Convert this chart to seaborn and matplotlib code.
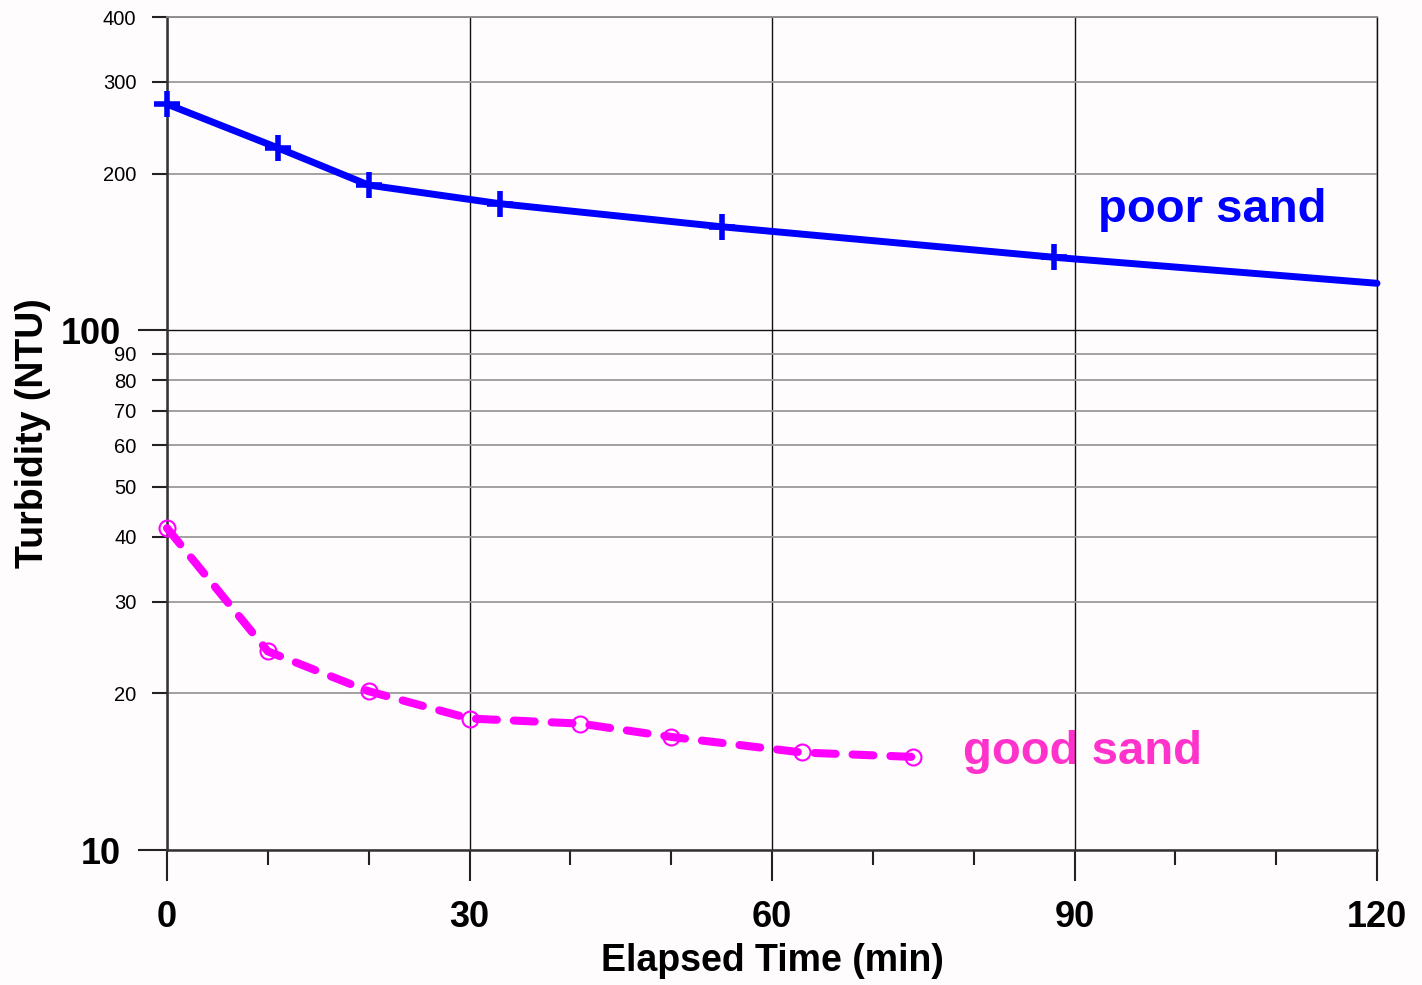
import matplotlib
matplotlib.use("Agg")
import matplotlib.pyplot as plt
import matplotlib.ticker as mticker
import seaborn as sns
import pandas as pd

# ---- data ----
poor_time = [0, 11, 20, 33, 55, 88, 120]
poor_ntu = [272, 224, 190, 175, 158, 138, 123]
poor_marked = [True, True, True, True, True, True, False]

good_time = [0, 10, 20, 30, 41, 50, 63, 74]
good_ntu = [41.6, 24.1, 20.2, 17.9, 17.5, 16.5, 15.4, 15.1]

x_major = [0, 30, 60, 90, 120]
x_minor = [10, 20, 40, 50, 70, 80, 100, 110]
y_major = [10, 100]
y_minor = [20, 30, 40, 50, 60, 70, 80, 90, 200, 300, 400]

poor_label = "poor sand"
good_label = "good sand"
x_title = "Elapsed Time (min)"
y_title = "Turbidity (NTU)"

# ---- style ----
sns.set_theme(style="white")
plt.rcParams["font.family"] = ["Liberation Sans", "DejaVu Sans"]
plt.rcParams["text.color"] = "black"
plt.rcParams["axes.labelcolor"] = "black"
plt.rcParams["xtick.color"] = "black"
plt.rcParams["ytick.color"] = "black"
bg = "#fffcfd"

fig = plt.figure(figsize=(14.22, 9.85), dpi=100, facecolor=bg)
ax = fig.add_axes([167 / 1422, 1 - 850 / 985, (1377 - 167) / 1422, (850 - 17) / 985])
ax.set_facecolor(bg)

poor_df = pd.DataFrame({"t": poor_time, "v": poor_ntu})
good_df = pd.DataFrame({"t": good_time, "v": good_ntu})

sns.lineplot(data=poor_df, x="t", y="v", ax=ax, color="#0000ff", lw=5.0,
             zorder=3, legend=False)
ax.lines[-1].set_clip_on(False)
pm = poor_df[poor_marked]
ax.plot(pm["t"], pm["v"], ls="none", marker="+", ms=19, mew=4.0,
        color="#0000ff", zorder=4, clip_on=False)

sns.lineplot(data=good_df, x="t", y="v", ax=ax, color="#ff00ff", lw=5.8,
             zorder=3, legend=False)
ax.lines[-1].set_linestyle((0, (2.6, 2.1)))
ax.lines[-1].set_dash_capstyle("round")
ax.lines[-1].set_clip_on(False)
ax.plot(good_df["t"], good_df["v"], ls="none", marker="o", ms=11.5, mew=1.5,
        mfc="none", mec="#ff00ff", zorder=4, clip_on=False)

ax.set_yscale("log")
ax.set_xlim(0, 120)
ax.set_ylim(10, 400)

ax.xaxis.set_major_locator(mticker.FixedLocator(x_major))
ax.xaxis.set_minor_locator(mticker.FixedLocator(x_minor))
ax.yaxis.set_major_locator(mticker.FixedLocator(y_major))
ax.yaxis.set_minor_locator(mticker.FixedLocator(y_minor))
ax.xaxis.set_major_formatter(mticker.FixedFormatter([str(v) for v in x_major]))
ax.xaxis.set_minor_formatter(mticker.NullFormatter())
ax.yaxis.set_major_formatter(mticker.FixedFormatter([str(v) for v in y_major]))
ax.yaxis.set_minor_formatter(mticker.FixedFormatter([str(v) for v in y_minor]))

ax.tick_params(axis="x", which="major", direction="out", length=22, width=1.5,
               color="#222222", labelcolor="black", pad=14, labelsize=26, bottom=True)
ax.tick_params(axis="x", which="minor", direction="out", length=11, width=1.5,
               color="#222222", bottom=True)
ax.tick_params(axis="y", which="major", direction="out", length=21, width=1.5,
               color="#222222", labelcolor="black", pad=12, labelsize=26, left=True)
ax.tick_params(axis="y", which="minor", direction="out", length=11, width=1.5,
               color="#222222", labelcolor="black", pad=11, labelsize=14.5, left=True)
for lab in ax.get_xticklabels() + ax.get_yticklabels(which="major"):
    lab.set_fontweight("bold")

ax.grid(True, axis="x", which="major", color="#111111", lw=1.0)
ax.grid(True, axis="y", which="major", color="#111111", lw=1.0)
ax.grid(True, axis="y", which="minor", color="#9a9a9a", lw=1.3)
ax.set_axisbelow("line")

for s in ["left", "bottom"]:
    ax.spines[s].set_color("#333333")
    ax.spines[s].set_linewidth(1.8)
ax.spines["right"].set_color("#111111")
ax.spines["right"].set_linewidth(1.0)
ax.spines["top"].set_color("#888888")
ax.spines["top"].set_linewidth(1.3)

ax.set_xlabel(x_title, fontsize=27, fontweight="bold", color="black")
ax.set_ylabel(y_title, fontsize=27, fontweight="bold", color="black")
ax.xaxis.label.set_va("center")
ax.yaxis.label.set_va("center")
ax.xaxis.set_label_coords(0.5, -(961 - 850) / 833)
ax.yaxis.set_label_coords(-(167 - 33) / 1210, 0.5)

ax.text(92.3, 170, poor_label, color="#0000ff", fontsize=34, fontweight="bold",
        va="center", ha="left", zorder=1)
ax.text(78.9, 15.4, good_label, color="#ff33cc", fontsize=34, fontweight="bold",
        va="center", ha="left", zorder=1)

fig.savefig("out.png", dpi=100, facecolor=bg)
